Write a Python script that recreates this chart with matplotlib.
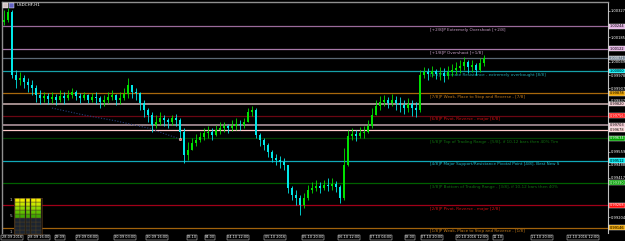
import matplotlib
matplotlib.use("Agg")
import matplotlib.pyplot as plt
import matplotlib.transforms as mtrans
from matplotlib.patches import Rectangle
import numpy as np

symbol_title = "USDCHF,H1"

first_open = 1.00267
bar_high = [1.00332, 1.00343, 1.00332, 1.00005, 0.99995, 0.99978, 0.99962, 0.99951, 0.99924, 0.99896,
            0.99886, 0.99880, 0.99886, 0.99875, 0.99896, 0.99886, 0.99896, 0.99907, 0.99896, 0.99880,
            0.99886, 0.99875, 0.99880, 0.99886, 0.99864, 0.99869, 0.99886, 0.99896, 0.99875, 0.99886,
            0.99907, 0.99962, 0.99918, 0.99907, 0.99886, 0.99842, 0.99798, 0.99777, 0.99760, 0.99777,
            0.99760, 0.99744, 0.99760, 0.99766, 0.99744, 0.99689, 0.99613, 0.99635, 0.99657, 0.99668,
            0.99689, 0.99700, 0.99689, 0.99706, 0.99722, 0.99722, 0.99711, 0.99733, 0.99744, 0.99733,
            0.99744, 0.99798, 0.99809, 0.99798, 0.99662, 0.99635, 0.99608, 0.99569, 0.99548, 0.99537,
            0.99526, 0.99488, 0.99373, 0.99351, 0.99324, 0.99335, 0.99379, 0.99395, 0.99406, 0.99395,
            0.99406, 0.99417, 0.99417, 0.99401, 0.99379, 0.99580, 0.99678, 0.99689, 0.99678, 0.99695,
            0.99700, 0.99733, 0.99798, 0.99842, 0.99864, 0.99869, 0.99858, 0.99875, 0.99864, 0.99858,
            0.99842, 0.99853, 0.99842, 0.99831, 1.00005, 1.00022, 1.00016, 1.00027, 1.00011, 1.00022,
            1.00016, 1.00027, 1.00038, 1.00049, 1.00060, 1.00076, 1.00060, 1.00060, 1.00044, 1.00071,
            1.00087]
bar_low = [1.00251, 1.00267, 0.99962, 0.99907, 0.99924, 0.99907, 0.99886, 0.99869, 0.99831, 0.99820,
           0.99831, 0.99820, 0.99826, 0.99815, 0.99831, 0.99820, 0.99842, 0.99853, 0.99842, 0.99826,
           0.99842, 0.99826, 0.99831, 0.99820, 0.99798, 0.99809, 0.99826, 0.99842, 0.99815, 0.99820,
           0.99842, 0.99853, 0.99853, 0.99842, 0.99787, 0.99749, 0.99722, 0.99668, 0.99689, 0.99706,
           0.99700, 0.99689, 0.99706, 0.99700, 0.99624, 0.99499, 0.99515, 0.99569, 0.99591, 0.99613,
           0.99624, 0.99635, 0.99624, 0.99646, 0.99657, 0.99668, 0.99662, 0.99673, 0.99678, 0.99678,
           0.99689, 0.99744, 0.99755, 0.99635, 0.99591, 0.99569, 0.99531, 0.99504, 0.99488, 0.99471,
           0.99460, 0.99335, 0.99297, 0.99270, 0.99215, 0.99253, 0.99297, 0.99335, 0.99346, 0.99335,
           0.99351, 0.99346, 0.99351, 0.99341, 0.99281, 0.99297, 0.99482, 0.99624, 0.99619, 0.99635,
           0.99635, 0.99662, 0.99689, 0.99760, 0.99787, 0.99809, 0.99798, 0.99809, 0.99787, 0.99777,
           0.99766, 0.99777, 0.99755, 0.99749, 0.99777, 0.99962, 0.99951, 0.99967, 0.99956, 0.99951,
           0.99940, 0.99956, 0.99973, 0.99984, 0.99989, 1.00005, 0.99989, 0.99995, 0.99978, 0.99995,
           1.00027]
bar_close = [1.00278, 1.00322, 0.99978, 0.99951, 0.99962, 0.99940, 0.99924, 0.99907, 0.99869, 0.99853,
             0.99864, 0.99847, 0.99858, 0.99842, 0.99864, 0.99853, 0.99869, 0.99886, 0.99864, 0.99853,
             0.99869, 0.99842, 0.99858, 0.99853, 0.99831, 0.99842, 0.99858, 0.99869, 0.99842, 0.99853,
             0.99875, 0.99924, 0.99886, 0.99880, 0.99826, 0.99787, 0.99760, 0.99706, 0.99722, 0.99744,
             0.99733, 0.99722, 0.99744, 0.99733, 0.99668, 0.99542, 0.99569, 0.99608, 0.99624, 0.99640,
             0.99662, 0.99668, 0.99651, 0.99678, 0.99689, 0.99700, 0.99689, 0.99700, 0.99711, 0.99706,
             0.99722, 0.99777, 0.99787, 0.99651, 0.99624, 0.99597, 0.99559, 0.99526, 0.99515, 0.99504,
             0.99488, 0.99362, 0.99324, 0.99308, 0.99270, 0.99308, 0.99351, 0.99362, 0.99373, 0.99362,
             0.99379, 0.99373, 0.99384, 0.99368, 0.99308, 0.99488, 0.99646, 0.99657, 0.99646, 0.99662,
             0.99668, 0.99700, 0.99760, 0.99809, 0.99831, 0.99842, 0.99826, 0.99842, 0.99826, 0.99815,
             0.99798, 0.99820, 0.99798, 0.99787, 0.99978, 0.99995, 0.99984, 1.00000, 0.99984, 0.99989,
             0.99973, 0.99995, 1.00005, 1.00016, 1.00027, 1.00049, 1.00022, 1.00033, 1.00005, 1.00044,
             1.00071]

level_prices = [1.00244, 1.00122, 1.00000, 0.99878, 0.99756, 0.99634, 0.99512, 0.99390, 0.99268, 0.99146]
level_labels = [
    "[+2/8]P Extremely Overshoot [+2/8]",
    "[+1/8]P Overshoot [+1/8]",
    "[8/8]P Ultimate Resistance - extremely overbought [8/8]",
    "[7/8]P Weak, Place to Stop and Reverse - [7/8]",
    "[6/8]P Pivot, Reverse - major [6/8]",
    "[5/8]P Top of Trading Range - [5/8], if 10-12 bars then 40% Tim",
    "[4/8]P Major Support/Resistance Pivotal Point [4/8]- Best New S",
    "[3/8]P Bottom of Trading Range - [3/8], if 10-12 bars then 40%",
    "[2/8]P Pivot, Reverse - major [2/8]",
    "[1/8]P Weak, Place to Stop and Reverse - [1/8]",
]
level_line_colors = ["#9a6a9a", "#a878a8", "#16a0a8", "#a8680c", "#6a0612",
                     "#003a00", "#10a8b8", "#006000", "#a00018", "#a0620c"]
level_text_colors = ["#c8a0c8", "#c8a0c8", "#20a8b0", "#c07818", "#d01010",
                     "#107010", "#20b8c8", "#107010", "#d01010", "#c07818"]
level_box_colors = ["#e0b0e0", "#e0b0e0", "#00e8f0", "#e8a000", "#ff1010",
                    "#00a000", "#00e8f0", "#00a000", "#ff1010", "#e8a000"]

extra_line_prices = [1.00071, 0.99820, 0.99703, 0.99678]
extra_line_colors = ["#5a6874", "#b09898", "#a08890", "#ffc8c8"]
extra_line_widths = [0.9, 1.3, 1.3, 0.9]
extra_box_colors = ["#708090", "#f0c8d0", "#f0c8d0", "#ffd8d8"]

ytick_values = [1.00327, 1.00185, 1.00049, 0.99978, 0.99907, 0.99837, 0.99559, 0.99488, 0.99417, 0.99204]

ma_x = [12, 20, 28, 36, 44]
ma_y = [0.99798, 0.99760, 0.99728, 0.99689, 0.99629]

time_tick_pos = [2, 8.75, 14, 20.75, 30.25, 38.25, 47, 51.5, 58.5, 67.75,
                 77.25, 86.25, 94.25, 101.5, 107, 117, 123.5, 134.5, 144.75]
time_tick_labels = ["28.09 2016", "28.09 16:00", "29.09", "29.09 08:00", "30.09 03:00",
                    "30.09 16:00", "03.10", "04:00", "04.10 12:00", "05.10 2016",
                    "05.10 20:00", "06.10 12:00", "07.10 04:00", "08:00", "07.10 20:00",
                    "10.10 2016 12:00", "11.10", "11.10 20:00", "12.10 2016 12:00"]

widget_rows_lit = [5, 5, 5, 5, 5]
widget_row_colors = ["#f0f000", "#c8e800", "#90d800", "#60c000", "#40a800"]

W, H = 625, 241
fig = plt.figure(figsize=(W / 100, H / 100), dpi=100, facecolor="black")
ax = fig.add_axes([2 / W, (H - 233) / H, 606 / W, 231 / H], facecolor="black")

n = len(bar_close)
x = np.arange(n)
opens = np.array([first_open] + bar_close[:-1])
closes = np.array(bar_close)
highs = np.maximum(np.array(bar_high), np.maximum(opens, closes))
lows = np.minimum(np.array(bar_low), np.minimum(opens, closes))
bull = closes >= opens
cols = np.where(bull, "#00e000", "#00e8e8")

ax.vlines(x, lows, highs, colors=cols, lw=0.6, zorder=4)
body = np.maximum(np.abs(closes - opens), 0.000015)
ax.bar(x, body, bottom=np.minimum(opens, closes), width=0.5, color=cols, lw=0, zorder=4)

# Murrey lines and labels
for p, lab, lc, tc in zip(level_prices, level_labels, level_line_colors, level_text_colors):
    ax.axhline(p, color=lc, lw=0.9, zorder=2)
    ax.annotate(lab, xy=(106.5, p), xytext=(0, -1.2), textcoords="offset points",
                fontsize=3.0, color=tc, va="top", ha="left", zorder=2)

for p, lc, lw in zip(extra_line_prices, extra_line_colors, extra_line_widths):
    ax.axhline(p, color=lc, lw=lw, zorder=2)

# moving-average style dotted trail
ax.plot(ma_x, ma_y, color="#28407a", lw=0.8, ls=(0, (1, 1.5)), zorder=3)
ax.plot([ma_x[-1]], [ma_y[-1]], marker="o", ms=1.8, color="#ff4040", mec="#ffffff", mew=0.3, zorder=5)

ax.set_xlim(-0.5, 151)
ax.set_ylim(0.99117, 1.00376)

# right price axis
ax.yaxis.tick_right()
ax.set_yticks(ytick_values)
ax.set_yticklabels(["%.5f" % v for v in ytick_values])
ax.tick_params(axis="y", colors="white", labelsize=2.6, length=1.2, width=0.4, pad=0.8)

bt = mtrans.blended_transform_factory(ax.transAxes, ax.transData)
for p, bc in zip(level_prices + extra_line_prices, level_box_colors + extra_box_colors):
    tcol = "white" if bc in ("#ff1010", "#00a000", "#708090") else "black"
    ax.text(1.003, p, "%.5f" % p, transform=bt, fontsize=2.5, color=tcol, va="center", ha="left",
            clip_on=False, zorder=6,
            bbox=dict(boxstyle="square,pad=0.12", fc=bc, ec="white", lw=0.3))

# time axis
ax.set_xticks(time_tick_pos)
ax.set_xticklabels(time_tick_labels)
ax.tick_params(axis="x", colors="white", labelsize=2.5, length=0, pad=1.5)
for t in ax.get_xticklabels():
    t.set_bbox(dict(boxstyle="square,pad=0.12", fc="black", ec="white", lw=0.3))

for s in ["top", "left"]:
    ax.spines[s].set_color("#909090")
    ax.spines[s].set_linewidth(1.0)
ax.spines["right"].set_color("#c0c0c0")
ax.spines["right"].set_linewidth(0.8)
ax.spines["bottom"].set_visible(False)

# top-left caption with icons
fig.patches.append(Rectangle((3 / W, (H - 8) / H), 5 / W, 5 / H, transform=fig.transFigure,
                             fc="#d0c0c0", ec="white", lw=0.3))
fig.patches.append(Rectangle((9 / W, (H - 8) / H), 5 / W, 5 / H, transform=fig.transFigure,
                             fc="#6060c0", ec="white", lw=0.3))
fig.text(17 / W, (H - 5.5) / H, symbol_title, fontsize=3.0, color="white", va="center", ha="left")

# small strength widget (bottom-left)
wax = fig.add_axes([14 / W, (H - 234) / H, 28 / W, 36 / H], facecolor="#101010")
nrows = 9
for ci, lit in enumerate(widget_rows_lit):
    for r in range(nrows):
        idx = nrows - 1 - r
        c = widget_row_colors[idx] if idx < lit else "#1c2430"
        wax.bar(ci, 1, bottom=r, width=0.9, color=c, edgecolor="#504020", lw=0.3)
wax.set_xlim(-0.6, len(widget_rows_lit) - 0.4)
wax.set_ylim(0, nrows)
wax.set_xticks([])
wax.set_yticks([])
for s in wax.spines.values():
    s.set_color("#604020")
    s.set_linewidth(0.4)
fig.text(10 / W, (H - 200) / H, "1", fontsize=3.0, color="#c0c0c0", va="center")
fig.text(10 / W, (H - 216) / H, "5", fontsize=3.0, color="#c0c0c0", va="center")
fig.text(10 / W, (H - 232) / H, "1", fontsize=3.0, color="#c0c0c0", va="center")

fig.savefig("out.png", dpi=100, facecolor="black")
